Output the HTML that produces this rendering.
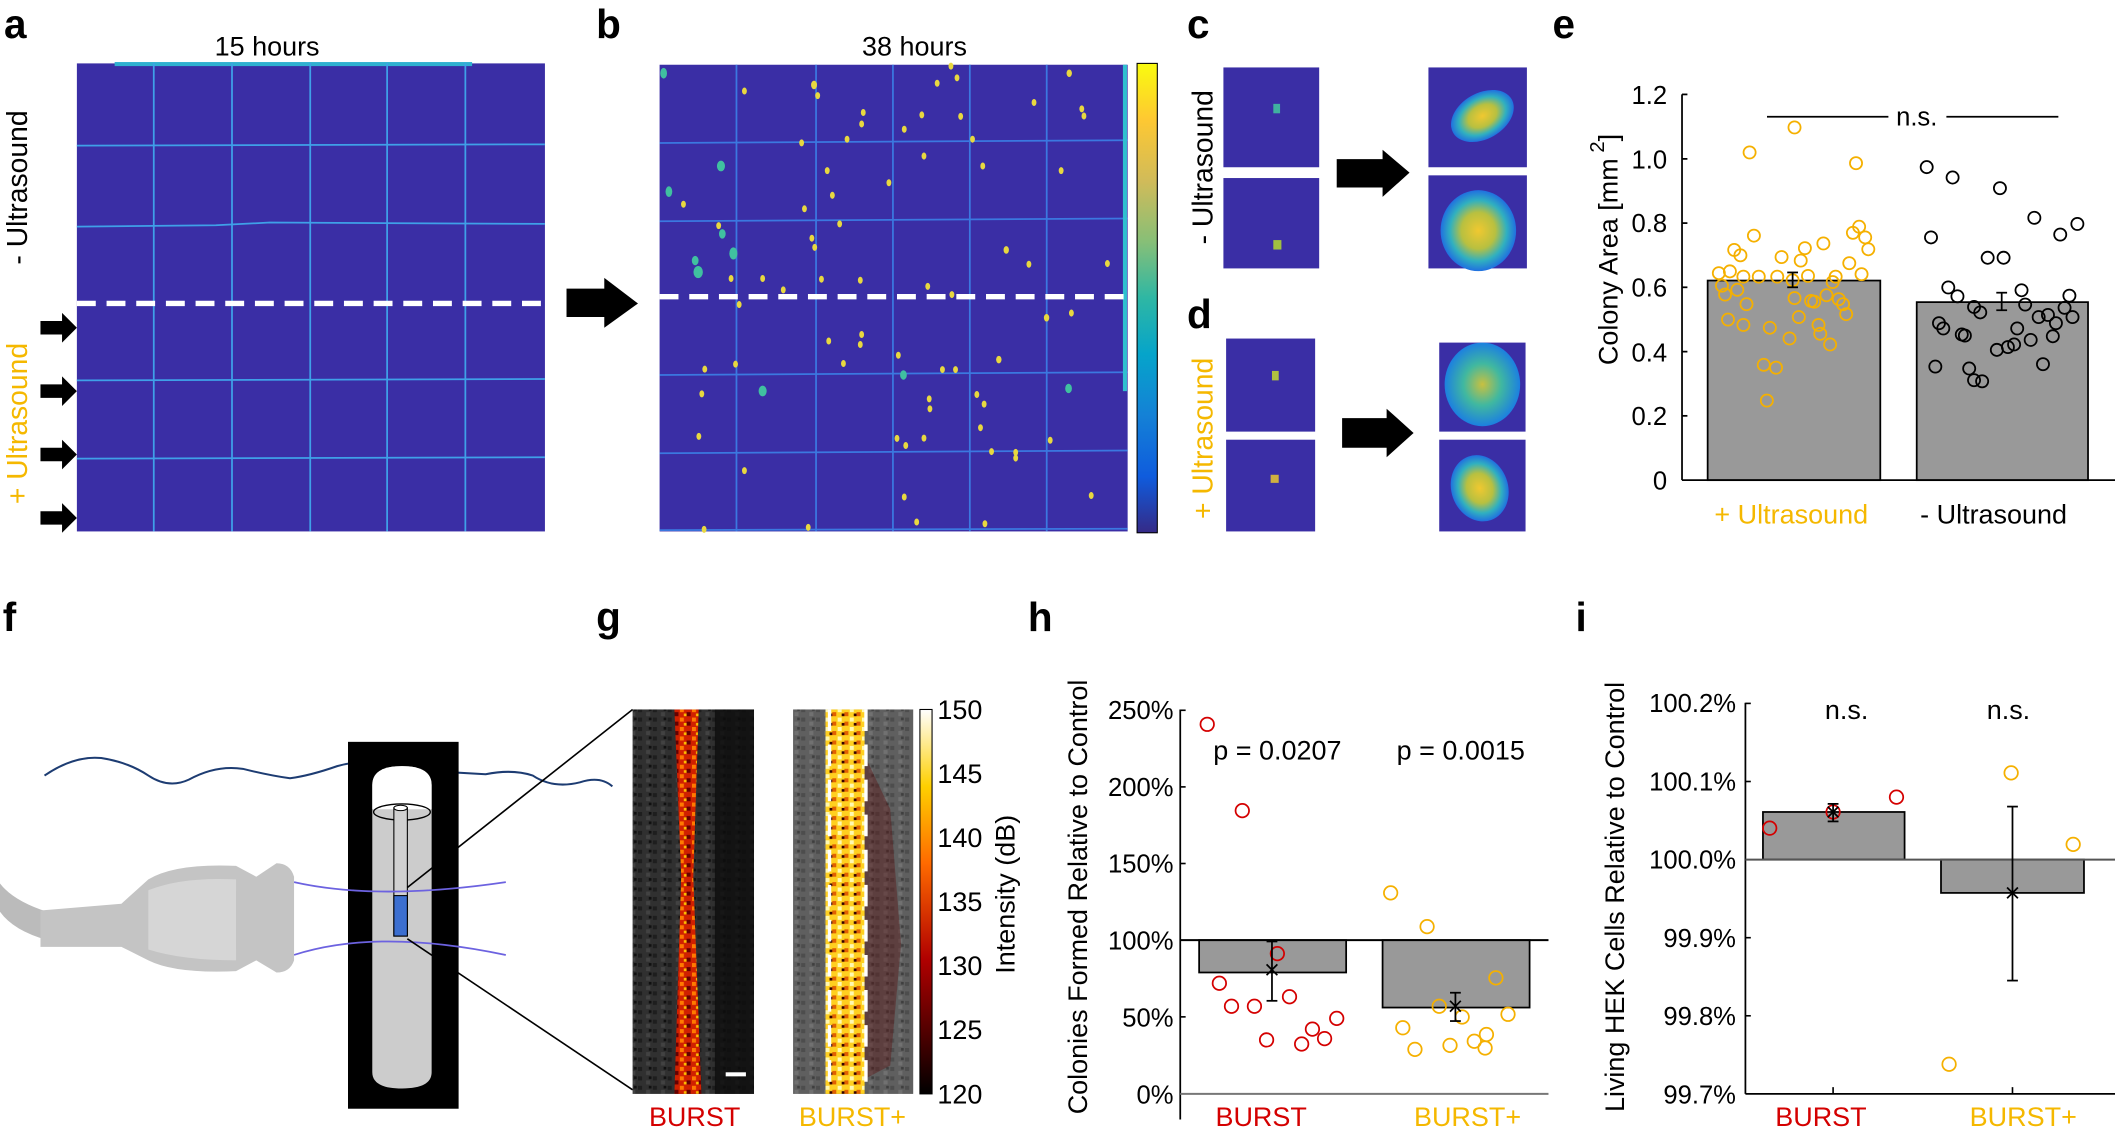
<!DOCTYPE html>
<html><head><meta charset="utf-8"><style>
html,body{margin:0;padding:0;background:#fff;}
svg{display:block;}
text{font-family:"Liberation Sans",Arial,sans-serif;}
</style></head><body>
<svg width="2115" height="1133" viewBox="0 0 1568 840" preserveAspectRatio="none" xmlns="http://www.w3.org/2000/svg">
<defs>
<linearGradient id="parula" x1="0" y1="1" x2="0" y2="0">
<stop offset="0" stop-color="#352a87"/><stop offset="0.12" stop-color="#0f5cdd"/><stop offset="0.25" stop-color="#1481d6"/><stop offset="0.38" stop-color="#06a4ca"/><stop offset="0.5" stop-color="#2eb7a4"/><stop offset="0.62" stop-color="#87bf77"/><stop offset="0.75" stop-color="#d1bb59"/><stop offset="0.88" stop-color="#fec832"/><stop offset="1" stop-color="#f9fb0e"/>
</linearGradient>
<linearGradient id="hot" x1="0" y1="1" x2="0" y2="0">
<stop offset="0" stop-color="#000"/><stop offset="0.35" stop-color="#b00000"/><stop offset="0.6" stop-color="#ff6a00"/><stop offset="0.8" stop-color="#ffd000"/><stop offset="1" stop-color="#fff"/>
</linearGradient>
<radialGradient id="blob1" cx="0.5" cy="0.5" r="0.5"><stop offset="0" stop-color="#f0c830"/><stop offset="0.45" stop-color="#b8c040"/><stop offset="0.75" stop-color="#30b0c0"/><stop offset="1" stop-color="#2070e0"/></radialGradient>
<radialGradient id="blob2" cx="0.5" cy="0.5" r="0.5"><stop offset="0" stop-color="#c8c040"/><stop offset="0.5" stop-color="#40b8a0"/><stop offset="1" stop-color="#1c80e0"/></radialGradient>
<pattern id="noise" width="11" height="7" patternUnits="userSpaceOnUse">
<rect width="11" height="7" fill="#4a4a4a"/><rect x="0" y="0" width="3" height="3" fill="#2e2e2e"/><rect x="6" y="3" width="3" height="3" fill="#666"/><rect x="8" y="0" width="2" height="2" fill="#1a1a1a"/>
</pattern>
<pattern id="redn" width="9" height="7" patternUnits="userSpaceOnUse">
<rect width="9" height="7" fill="#d02000"/><rect x="0" y="0" width="3" height="3" fill="#ff7a00"/><rect x="5" y="3" width="3" height="3" fill="#600"/><rect x="3" y="4" width="2" height="2" fill="#ffc000"/>
</pattern>
<pattern id="yeln" width="9" height="7" patternUnits="userSpaceOnUse">
<rect width="9" height="7" fill="#ffd020"/><rect x="0" y="0" width="3" height="3" fill="#fff8b0"/><rect x="5" y="3" width="3" height="3" fill="#e06000"/><rect x="3" y="4" width="2" height="2" fill="#300"/>
</pattern>
</defs>

<g font-weight="bold" font-size="30" fill="#000">
<text x="3" y="28">a</text><text x="442" y="28">b</text><text x="880" y="28">c</text><text x="880" y="243">d</text><text x="1151" y="28">e</text>
<text x="2" y="468">f</text><text x="442" y="468">g</text><text x="762" y="468">h</text><text x="1168" y="468">i</text>
</g>

<!-- panel a -->
<text x="198" y="41" font-size="20" text-anchor="middle">15 hours</text>
<rect x="57" y="47" width="347" height="347" fill="#3a2ea5"/>
<rect x="85" y="46" width="265" height="3" fill="#30b0d0"/>
<g stroke="#3fa0e8" stroke-width="1.3">
<line x1="114" y1="47" x2="114" y2="394"/><line x1="172" y1="47" x2="172" y2="394"/><line x1="230" y1="47" x2="230" y2="394"/><line x1="287" y1="47" x2="287" y2="394"/><line x1="345" y1="47" x2="345" y2="394"/>
<line x1="57" y1="108" x2="404" y2="107"/><path d="M57 168 L160 167 L200 165 L404 166" fill="none"/><line x1="57" y1="282" x2="404" y2="281"/><line x1="57" y1="340" x2="404" y2="339"/>
</g>
<line x1="57" y1="225" x2="404" y2="225" stroke="#fff" stroke-width="4" stroke-dasharray="14,8"/>
<g fill="#000">
<polygon points="30,238 46,238 46,232 57,243 46,254 46,248 30,248"/>
<polygon points="30,285 46,285 46,279 57,290 46,301 46,295 30,295"/>
<polygon points="30,332 46,332 46,326 57,337 46,348 46,342 30,342"/>
<polygon points="30,379 46,379 46,373 57,384 46,395 46,389 30,389"/>
</g>
<text transform="translate(20,139) rotate(-90)" font-size="21" text-anchor="middle">- Ultrasound</text>
<text transform="translate(20,314) rotate(-90)" font-size="21" text-anchor="middle" fill="#f5b800">+ Ultrasound</text>
<polygon points="420,214 448,214 448,206 473,225 448,243 448,235 420,235" fill="#000"/>

<!-- panel b -->
<text x="678" y="41" font-size="20" text-anchor="middle">38 hours</text>
<rect x="489" y="48" width="347" height="346" fill="#3a2ea5"/>
<g stroke="#3b78e0" stroke-width="1.3">
<line x1="546" y1="48" x2="546" y2="394"/><line x1="605" y1="48" x2="605" y2="394"/><line x1="662" y1="48" x2="662" y2="394"/><line x1="719" y1="48" x2="719" y2="394"/><line x1="776" y1="48" x2="776" y2="394"/>
<line x1="489" y1="106" x2="836" y2="104"/><line x1="489" y1="164" x2="836" y2="162"/><line x1="489" y1="278" x2="836" y2="276"/><line x1="489" y1="336" x2="836" y2="334"/><line x1="489" y1="393" x2="836" y2="392"/>
</g>
<line x1="834" y1="48" x2="834" y2="290" stroke="#30c0d0" stroke-width="3"/>
<line x1="489" y1="220" x2="836" y2="220" stroke="#fff" stroke-width="4" stroke-dasharray="14,8"/>
<g fill="#e8d840">
<ellipse cx="705" cy="49" rx="1.8" ry="2.6"/><ellipse cx="709.5" cy="57.7" rx="1.8" ry="2.6"/><ellipse cx="694.8" cy="61.7" rx="1.8" ry="2.6"/><ellipse cx="792.7" cy="54.3" rx="2" ry="2.8"/><ellipse cx="603.5" cy="63" rx="2.2" ry="3.2"/><ellipse cx="551.9" cy="67.5" rx="1.8" ry="2.6"/><ellipse cx="606.2" cy="70.9" rx="1.8" ry="2.6"/><ellipse cx="640" cy="83.4" rx="1.8" ry="2.6"/><ellipse cx="683.4" cy="85.2" rx="1.8" ry="2.6"/><ellipse cx="712.2" cy="86.3" rx="1.8" ry="2.6"/><ellipse cx="766.6" cy="76" rx="1.8" ry="2.6"/><ellipse cx="802" cy="80.7" rx="1.8" ry="2.6"/><ellipse cx="803.6" cy="86" rx="1.8" ry="2.6"/><ellipse cx="638.8" cy="91.9" rx="1.8" ry="2.6"/><ellipse cx="670.4" cy="95.8" rx="1.8" ry="2.6"/><ellipse cx="628" cy="103.2" rx="1.8" ry="2.6"/><ellipse cx="594.3" cy="105.9" rx="1.8" ry="2.6"/><ellipse cx="721" cy="103.2" rx="1.8" ry="2.6"/><ellipse cx="685" cy="115.7" rx="1.8" ry="2.6"/><ellipse cx="613.3" cy="126.5" rx="1.8" ry="2.6"/><ellipse cx="728.6" cy="123.1" rx="1.8" ry="2.6"/><ellipse cx="786.7" cy="126.5" rx="1.8" ry="2.6"/><ellipse cx="659" cy="135.5" rx="1.8" ry="2.6"/><ellipse cx="617.1" cy="144.8" rx="1.8" ry="2.6"/><ellipse cx="506.7" cy="151.4" rx="1.8" ry="2.6"/><ellipse cx="596.4" cy="154.8" rx="1.8" ry="2.6"/><ellipse cx="622.5" cy="166" rx="1.8" ry="2.6"/><ellipse cx="532.8" cy="167.3" rx="1.8" ry="2.6"/><ellipse cx="601.9" cy="176.6" rx="1.8" ry="2.6"/><ellipse cx="604" cy="183.4" rx="1.8" ry="2.6"/><ellipse cx="746" cy="185.3" rx="2" ry="2.8"/><ellipse cx="762.8" cy="195.9" rx="1.8" ry="2.6"/><ellipse cx="821" cy="195.4" rx="1.8" ry="2.6"/><ellipse cx="542" cy="206.5" rx="1.8" ry="2.6"/><ellipse cx="565.4" cy="206.5" rx="1.8" ry="2.6"/><ellipse cx="609" cy="207" rx="1.8" ry="2.6"/><ellipse cx="637.8" cy="207.8" rx="1.8" ry="2.6"/><ellipse cx="580.7" cy="214.9" rx="1.8" ry="2.6"/><ellipse cx="687.8" cy="212.3" rx="1.8" ry="2.6"/><ellipse cx="705.7" cy="218.4" rx="1.8" ry="2.6"/><ellipse cx="548" cy="225.8" rx="1.8" ry="2.6"/><ellipse cx="775.9" cy="235.6" rx="2" ry="2.8"/><ellipse cx="794.3" cy="232.1" rx="1.8" ry="2.6"/><ellipse cx="614.4" cy="252.8" rx="1.8" ry="2.6"/><ellipse cx="638.8" cy="248" rx="1.8" ry="2.6"/><ellipse cx="637.8" cy="255.4" rx="1.8" ry="2.6"/><ellipse cx="666" cy="263.4" rx="1.8" ry="2.6"/><ellipse cx="625.3" cy="269.5" rx="1.8" ry="2.6"/><ellipse cx="545.3" cy="270" rx="1.8" ry="2.6"/><ellipse cx="522.5" cy="273.7" rx="1.8" ry="2.6"/><ellipse cx="740.5" cy="266.6" rx="2" ry="2.8"/><ellipse cx="698.7" cy="274" rx="1.8" ry="2.6"/><ellipse cx="708.4" cy="274" rx="1.8" ry="2.6"/><ellipse cx="520.3" cy="292" rx="1.8" ry="2.6"/><ellipse cx="688.9" cy="295.7" rx="1.8" ry="2.6"/><ellipse cx="689.4" cy="303.1" rx="1.8" ry="2.6"/><ellipse cx="724.2" cy="292.5" rx="1.8" ry="2.6"/><ellipse cx="729.6" cy="299.6" rx="1.8" ry="2.6"/><ellipse cx="726.9" cy="317.1" rx="1.8" ry="2.6"/><ellipse cx="518.1" cy="323.5" rx="1.8" ry="2.6"/><ellipse cx="665" cy="325" rx="1.8" ry="2.6"/><ellipse cx="671.5" cy="330.3" rx="1.8" ry="2.6"/><ellipse cx="685" cy="324.8" rx="1.8" ry="2.6"/><ellipse cx="778.6" cy="326.4" rx="1.8" ry="2.6"/><ellipse cx="735.1" cy="334.8" rx="1.8" ry="2.6"/><ellipse cx="753" cy="335.4" rx="1.8" ry="2.6"/><ellipse cx="753" cy="339.6" rx="1.8" ry="2.6"/><ellipse cx="551.9" cy="348.9" rx="1.8" ry="2.6"/><ellipse cx="670.4" cy="368.5" rx="1.8" ry="2.6"/><ellipse cx="809" cy="367.4" rx="1.8" ry="2.6"/><ellipse cx="679.6" cy="387" rx="1.8" ry="2.6"/><ellipse cx="599.2" cy="391" rx="1.8" ry="2.6"/><ellipse cx="730.2" cy="388.3" rx="1.8" ry="2.6"/><ellipse cx="522" cy="392.5" rx="1.8" ry="2.6"/>
</g>
<g fill="#40c0a0">
<ellipse cx="492" cy="54.3" rx="2.5" ry="4"/><ellipse cx="534.5" cy="123.1" rx="3" ry="4"/><ellipse cx="495.9" cy="142.1" rx="2.5" ry="4"/><ellipse cx="535.5" cy="173.4" rx="2.5" ry="3.5"/><ellipse cx="543.7" cy="187.9" rx="3" ry="4.5"/><ellipse cx="515.4" cy="193.2" rx="2.5" ry="3.5"/><ellipse cx="517.6" cy="201.7" rx="3.5" ry="4.5"/><ellipse cx="669.8" cy="278" rx="2.5" ry="3.5"/><ellipse cx="565.4" cy="289.9" rx="3" ry="4"/><ellipse cx="792.2" cy="288" rx="2.5" ry="3.5"/>
</g>
<rect x="843" y="47" width="15" height="348" fill="url(#parula)" stroke="#000" stroke-width="0.8"/>

<!-- panel c/d -->
<text transform="translate(899,124) rotate(-90)" font-size="21" text-anchor="middle">- Ultrasound</text>
<text transform="translate(899,325) rotate(-90)" font-size="21" text-anchor="middle" fill="#f5b800">+ Ultrasound</text>
<g fill="#3a2ea5">
<rect x="907" y="50" width="71" height="74"/><rect x="907" y="132" width="71" height="67"/>
<rect x="1059" y="50" width="73" height="74"/><rect x="1059" y="130" width="73" height="69"/>
<rect x="909" y="251" width="66" height="69"/><rect x="909" y="326" width="66" height="68"/>
<rect x="1067" y="254" width="64" height="66"/><rect x="1067" y="326" width="64" height="68"/>
</g>
<rect x="944" y="77" width="5" height="7" fill="#40b0a0"/><rect x="944" y="178" width="6" height="7" fill="#a0c040"/>
<rect x="943" y="275" width="5" height="7" fill="#b0c040"/><rect x="942" y="352" width="6" height="6" fill="#d0b040"/>
<ellipse cx="1099" cy="86" rx="25" ry="17" transform="rotate(-30 1099 86)" fill="url(#blob1)"/>
<ellipse cx="1096" cy="171" rx="28" ry="30" fill="url(#blob1)"/>
<ellipse cx="1099" cy="285" rx="28" ry="31" fill="url(#blob2)"/>
<ellipse cx="1097" cy="362" rx="21" ry="25" transform="rotate(-20 1097 362)" fill="url(#blob1)"/>
<polygon points="991,118 1025,118 1025,111 1045,128 1025,146 1025,139 991,139" fill="#000"/>
<polygon points="995,310 1028,310 1028,303 1048,321 1028,339 1028,332 995,332" fill="#000"/>

<!-- panel e -->
<g font-size="19" text-anchor="end">
<text x="1236" y="363">0</text><text x="1236" y="315">0.2</text><text x="1236" y="268">0.4</text><text x="1236" y="220">0.6</text><text x="1236" y="172">0.8</text><text x="1236" y="125">1.0</text><text x="1236" y="77">1.2</text>
</g>
<text transform="translate(1199,185) rotate(-90)" font-size="20" text-anchor="middle">Colony Area [mm<tspan dy="-10" font-size="15"> 2</tspan><tspan dy="10">]</tspan></text>
<rect x="1266" y="208" width="128" height="148" fill="#999" stroke="#000" stroke-width="1.3"/>
<rect x="1421" y="224" width="127" height="132" fill="#999" stroke="#000" stroke-width="1.3"/>
<g stroke="#000" stroke-width="1.3">
<line x1="1247" y1="70" x2="1247" y2="356"/><line x1="1247" y1="356" x2="1568" y2="356"/>
<line x1="1247" y1="70" x2="1251" y2="70"/><line x1="1247" y1="117.8" x2="1251" y2="117.8"/><line x1="1247" y1="165.4" x2="1251" y2="165.4"/><line x1="1247" y1="213" x2="1251" y2="213"/><line x1="1247" y1="260.7" x2="1251" y2="260.7"/><line x1="1247" y1="308.3" x2="1251" y2="308.3"/>
<line x1="1310" y1="86.6" x2="1400" y2="86.6"/><line x1="1443" y1="86.6" x2="1526" y2="86.6"/>
</g>
<text x="1421" y="93" font-size="19" text-anchor="middle">n.s.</text>
<g fill="none" stroke="#f5b000" stroke-width="1.3">
<circle cx="1330.4" cy="94.5" r="4.5"/><circle cx="1297.1" cy="113" r="4.5"/><circle cx="1376" cy="121" r="4.5"/><circle cx="1300.3" cy="174.7" r="4.5"/><circle cx="1285.7" cy="185.3" r="4.5"/><circle cx="1290.3" cy="189.3" r="4.5"/><circle cx="1338.1" cy="184" r="4.5"/><circle cx="1320.8" cy="190.6" r="4.5"/><circle cx="1335" cy="193.2" r="4.5"/><circle cx="1351.8" cy="180.5" r="4.5"/><circle cx="1373.7" cy="172.6" r="4.5"/><circle cx="1378.3" cy="168.1" r="4.5"/><circle cx="1382.8" cy="176" r="4.5"/><circle cx="1385.1" cy="184.8" r="4.5"/><circle cx="1371" cy="195.1" r="4.5"/><circle cx="1380.1" cy="203.3" r="4.5"/><circle cx="1282.5" cy="201.2" r="4.5"/><circle cx="1274.3" cy="202.5" r="4.5"/><circle cx="1292.5" cy="205.1" r="4.5"/><circle cx="1303.9" cy="205.1" r="4.5"/><circle cx="1317.6" cy="205.1" r="4.5"/><circle cx="1329" cy="207.8" r="4.5"/><circle cx="1340.4" cy="204.6" r="4.5"/><circle cx="1360.9" cy="205.1" r="4.5"/><circle cx="1358.7" cy="209.1" r="4.5"/><circle cx="1276.6" cy="211.8" r="4.5"/><circle cx="1278.9" cy="218.4" r="4.5"/><circle cx="1288" cy="214.9" r="4.5"/><circle cx="1294.8" cy="225.5" r="4.5"/><circle cx="1330.4" cy="221" r="4.5"/><circle cx="1342.7" cy="223.1" r="4.5"/><circle cx="1345" cy="223.7" r="4.5"/><circle cx="1354.1" cy="218.9" r="4.5"/><circle cx="1363.2" cy="221.8" r="4.5"/><circle cx="1366.4" cy="225.5" r="4.5"/><circle cx="1368.7" cy="232.9" r="4.5"/><circle cx="1281.1" cy="236.9" r="4.5"/><circle cx="1292.5" cy="240.9" r="4.5"/><circle cx="1312.1" cy="243" r="4.5"/><circle cx="1333.6" cy="235.1" r="4.5"/><circle cx="1348.2" cy="240.9" r="4.5"/><circle cx="1349.5" cy="247.5" r="4.5"/><circle cx="1326.7" cy="250.9" r="4.5"/><circle cx="1356.8" cy="255.4" r="4.5"/><circle cx="1307.6" cy="270.5" r="4.5"/><circle cx="1316.7" cy="272.6" r="4.5"/><circle cx="1309.9" cy="297" r="4.5"/>
</g>
<g fill="none" stroke="#000" stroke-width="1.3">
<circle cx="1428.4" cy="123.9" r="4.5"/><circle cx="1447.6" cy="131.6" r="4.5"/><circle cx="1482.7" cy="139.5" r="4.5"/><circle cx="1431.6" cy="176" r="4.5"/><circle cx="1508.2" cy="161.5" r="4.5"/><circle cx="1527.4" cy="173.9" r="4.5"/><circle cx="1540.1" cy="166" r="4.5"/><circle cx="1473.6" cy="191.1" r="4.5"/><circle cx="1485.4" cy="191.1" r="4.5"/><circle cx="1444.4" cy="213.1" r="4.5"/><circle cx="1451.2" cy="219.7" r="4.5"/><circle cx="1498.7" cy="215.2" r="4.5"/><circle cx="1501.4" cy="225.8" r="4.5"/><circle cx="1534.2" cy="219.2" r="4.5"/><circle cx="1530.6" cy="228.2" r="4.5"/><circle cx="1463.5" cy="227.6" r="4.5"/><circle cx="1468.1" cy="231.6" r="4.5"/><circle cx="1437.5" cy="239.6" r="4.5"/><circle cx="1440.7" cy="243.5" r="4.5"/><circle cx="1454.4" cy="248" r="4.5"/><circle cx="1456.7" cy="248.8" r="4.5"/><circle cx="1495.5" cy="243.5" r="4.5"/><circle cx="1511.4" cy="235.1" r="4.5"/><circle cx="1518.3" cy="233.5" r="4.5"/><circle cx="1524.2" cy="239.6" r="4.5"/><circle cx="1536.5" cy="235.1" r="4.5"/><circle cx="1521.9" cy="249.3" r="4.5"/><circle cx="1505.5" cy="252" r="4.5"/><circle cx="1480.4" cy="259.4" r="4.5"/><circle cx="1488.6" cy="257.3" r="4.5"/><circle cx="1493.2" cy="255.4" r="4.5"/><circle cx="1434.8" cy="271.8" r="4.5"/><circle cx="1459.9" cy="273.2" r="4.5"/><circle cx="1463.5" cy="281.9" r="4.5"/><circle cx="1469.5" cy="282.7" r="4.5"/><circle cx="1514.6" cy="270" r="4.5"/>
</g>
<g stroke="#000" stroke-width="1.3">
<line x1="1329" y1="202" x2="1329" y2="213"/><line x1="1325" y1="202" x2="1333" y2="202"/><line x1="1325" y1="213" x2="1333" y2="213"/>
<line x1="1484" y1="217" x2="1484" y2="230"/><line x1="1480" y1="217" x2="1488" y2="217"/><line x1="1480" y1="230" x2="1488" y2="230"/>
</g>
<text x="1328" y="388" font-size="20" text-anchor="middle" fill="#f5b800">+ Ultrasound</text>
<text x="1478" y="388" font-size="20" text-anchor="middle">- Ultrasound</text>

<!-- panel f -->
<path d="M33 575 Q55 560 75 562 Q95 565 110 575 Q125 585 140 578 Q160 567 180 570 Q200 575 215 577 Q230 575 250 568 Q270 562 290 570 L360 574 Q380 570 395 575 Q410 585 430 580 Q445 575 454 583" fill="none" stroke="#1d3c72" stroke-width="1.5"/>
<rect x="258" y="550" width="82" height="272" fill="#000"/>
<path d="M276 582 Q276 568 298 568 Q320 568 320 582 L320 795 Q320 807 298 807 Q276 807 276 795 Z" fill="#ccc"/>
<path d="M276 600 L276 582 Q276 568 298 568 Q320 568 320 582 L320 600 Z" fill="#fff"/>
<ellipse cx="298" cy="602" rx="21" ry="6" fill="none" stroke="#000" stroke-width="1"/>
<rect x="292" y="599" width="10" height="95" fill="#d0d0d0" stroke="#000" stroke-width="0.8"/>
<ellipse cx="297" cy="599" rx="5" ry="2" fill="#fff" stroke="#000" stroke-width="0.8"/>
<rect x="292" y="664" width="10" height="30" fill="#3c6fd0" stroke="#000" stroke-width="0.8"/>
<path d="M218 654 Q280 668 375 654" fill="none" stroke="#6c62e0" stroke-width="1.3"/>
<path d="M218 708 Q280 688 375 708" fill="none" stroke="#6c62e0" stroke-width="1.3"/>
<path d="M0 655 Q10 668 35 676 L35 697 Q10 690 0 676 Z" fill="#bbb"/>
<path d="M30 675 L90 670 L110 652 Q130 640 175 642 L190 650 L205 640 Q215 640 218 650 L218 712 Q215 721 205 721 L190 712 L175 720 Q130 722 110 712 L90 702 L30 702 Z" fill="#c4c4c4"/>
<path d="M110 660 Q135 650 175 652 L175 712 Q135 712 110 704 Z" fill="#d6d6d6"/>
<line x1="302" y1="658" x2="469" y2="526" stroke="#000" stroke-width="1.2"/>
<line x1="302" y1="696" x2="469" y2="808" stroke="#000" stroke-width="1.2"/>

<!-- panel g -->
<rect x="469" y="526" width="90" height="285" fill="url(#noise)"/>
<rect x="469" y="526" width="90" height="285" fill="#000" opacity="0.35"/>
<rect x="530" y="526" width="29" height="285" fill="#0c0c0c" opacity="0.8"/>
<path d="M500 526 L518 526 L514 650 L520 811 L500 811 L505 650 Z" fill="url(#redn)"/>
<rect x="538" y="795" width="15" height="3" fill="#fff"/>
<rect x="588" y="526" width="89" height="285" fill="url(#noise)"/>
<rect x="588" y="526" width="89" height="285" fill="#888" opacity="0.35"/>
<rect x="612" y="526" width="29" height="285" fill="url(#yeln)"/>
<path d="M641 560 L660 600 L668 700 L660 790 L641 800 Z" fill="#5a1010" opacity="0.4"/>
<line x1="615" y1="526" x2="615" y2="811" stroke="#fff" stroke-width="2.5" stroke-dasharray="16,10"/>
<line x1="642" y1="526" x2="642" y2="811" stroke="#fff" stroke-width="2.5" stroke-dasharray="16,10"/>
<rect x="682" y="526" width="9" height="285" fill="url(#hot)" stroke="#000" stroke-width="0.8"/>
<g font-size="20">
<text x="695" y="533">150</text><text x="695" y="580.5">145</text><text x="695" y="628">140</text><text x="695" y="675.5">135</text><text x="695" y="723">130</text><text x="695" y="770.5">125</text><text x="695" y="818">120</text>
</g>
<text transform="translate(752,663) rotate(-90)" font-size="20" text-anchor="middle">Intensity (dB)</text>
<text x="515" y="835" font-size="20" text-anchor="middle" fill="#d40000">BURST</text>
<text x="632" y="835" font-size="20" text-anchor="middle" fill="#f5b800">BURST+</text>

<!-- panel h -->
<text transform="translate(806,665) rotate(-90)" font-size="20" text-anchor="middle">Colonies Formed Relative to Control</text>
<g font-size="19" text-anchor="end">
<text x="870" y="818">0%</text><text x="870" y="761">50%</text><text x="870" y="704">100%</text><text x="870" y="647">150%</text><text x="870" y="590">200%</text><text x="870" y="533">250%</text>
</g>
<rect x="889" y="697" width="109" height="24" fill="#999" stroke="#000" stroke-width="1.3"/>
<rect x="1025" y="697" width="109" height="50" fill="#999" stroke="#000" stroke-width="1.3"/>
<line x1="875" y1="526" x2="875" y2="830" stroke="#000" stroke-width="1.3"/>
<line x1="875" y1="697" x2="1148" y2="697" stroke="#000" stroke-width="1.5"/>
<line x1="875" y1="811" x2="1148" y2="811" stroke="#777" stroke-width="1.5"/>
<g stroke="#000" stroke-width="1.2"><line x1="875" y1="526.6" x2="879" y2="526.6"/><line x1="875" y1="583.4" x2="879" y2="583.4"/><line x1="875" y1="640.2" x2="879" y2="640.2"/><line x1="875" y1="753.9" x2="879" y2="753.9"/></g>
<text x="947" y="563" font-size="20" text-anchor="middle">p = 0.0207</text>
<text x="1083" y="563" font-size="20" text-anchor="middle">p = 0.0015</text>
<g fill="none" stroke="#d40000" stroke-width="1.3">
<circle cx="895" cy="537" r="5"/><circle cx="921" cy="601" r="5"/><circle cx="904" cy="729" r="5"/><circle cx="913" cy="746" r="5"/><circle cx="930" cy="746" r="5"/><circle cx="956" cy="739" r="5"/><circle cx="947" cy="707" r="5"/><circle cx="939" cy="771" r="5"/><circle cx="965" cy="774" r="5"/><circle cx="973" cy="763" r="5"/><circle cx="982" cy="770" r="5"/><circle cx="991" cy="755" r="5"/>
</g>
<g fill="none" stroke="#f5b000" stroke-width="1.3">
<circle cx="1031" cy="662" r="5"/><circle cx="1058" cy="687" r="5"/><circle cx="1109" cy="725" r="5"/><circle cx="1118" cy="752" r="5"/><circle cx="1067" cy="746" r="5"/><circle cx="1084" cy="754" r="5"/><circle cx="1040" cy="762" r="5"/><circle cx="1049" cy="778" r="5"/><circle cx="1075" cy="775" r="5"/><circle cx="1093" cy="772" r="5"/><circle cx="1102" cy="767" r="5"/><circle cx="1101" cy="777" r="5"/>
</g>
<g stroke="#000" stroke-width="1.3">
<line x1="943" y1="698" x2="943" y2="742"/><line x1="939" y1="698" x2="947" y2="698"/><line x1="939" y1="742" x2="947" y2="742"/><path d="M939 715 L947 723 M939 723 L947 715"/>
<line x1="1079" y1="736" x2="1079" y2="757"/><line x1="1075" y1="736" x2="1083" y2="736"/><line x1="1075" y1="757" x2="1083" y2="757"/><path d="M1075 742 L1083 750 M1075 750 L1083 742"/>
</g>
<text x="935" y="835" font-size="20" text-anchor="middle" fill="#d40000">BURST</text>
<text x="1088" y="835" font-size="20" text-anchor="middle" fill="#f5b800">BURST+</text>

<!-- panel i -->
<text transform="translate(1204,665) rotate(-90)" font-size="20" text-anchor="middle">Living HEK Cells Relative to Control</text>
<g font-size="19" text-anchor="end">
<text x="1287" y="818">99.7%</text><text x="1287" y="760">99.8%</text><text x="1287" y="702">99.9%</text><text x="1287" y="644">100.0%</text><text x="1287" y="586">100.1%</text><text x="1287" y="528">100.2%</text>
</g>
<rect x="1307" y="602" width="105" height="35.3" fill="#999" stroke="#000" stroke-width="1.3"/>
<rect x="1439" y="637.3" width="106" height="24.7" fill="#999" stroke="#000" stroke-width="1.3"/>
<line x1="1294" y1="521" x2="1294" y2="811" stroke="#000" stroke-width="1.3"/>
<line x1="1294" y1="811" x2="1568" y2="811" stroke="#000" stroke-width="1.3"/>
<line x1="1294" y1="637.3" x2="1568" y2="637.3" stroke="#555" stroke-width="1.5"/>
<g stroke="#000" stroke-width="1.2"><line x1="1359" y1="811" x2="1359" y2="806"/><line x1="1492" y1="811" x2="1492" y2="806"/><line x1="1294" y1="521.5" x2="1298" y2="521.5"/><line x1="1294" y1="579.4" x2="1298" y2="579.4"/><line x1="1294" y1="695.2" x2="1298" y2="695.2"/><line x1="1294" y1="753.1" x2="1298" y2="753.1"/></g>
<text x="1369" y="533" font-size="20" text-anchor="middle">n.s.</text>
<text x="1489" y="533" font-size="20" text-anchor="middle">n.s.</text>
<g fill="none" stroke="#d40000" stroke-width="1.3"><circle cx="1312" cy="614" r="5"/><circle cx="1359" cy="602" r="5"/><circle cx="1406" cy="591" r="5"/></g>
<g fill="none" stroke="#f5b000" stroke-width="1.3"><circle cx="1491" cy="573" r="5"/><circle cx="1537" cy="626" r="5"/><circle cx="1445" cy="789" r="5"/></g>
<g stroke="#000" stroke-width="1.3">
<line x1="1359" y1="596" x2="1359" y2="609"/><line x1="1355" y1="596" x2="1363" y2="596"/><line x1="1355" y1="609" x2="1363" y2="609"/><path d="M1355 598 L1363 606 M1355 606 L1363 598"/>
<line x1="1492" y1="598" x2="1492" y2="727"/><line x1="1488" y1="598" x2="1496" y2="598"/><line x1="1488" y1="727" x2="1496" y2="727"/><path d="M1488 658 L1496 666 M1488 666 L1496 658"/>
</g>
<text x="1350" y="835" font-size="20" text-anchor="middle" fill="#d40000">BURST</text>
<text x="1500" y="835" font-size="20" text-anchor="middle" fill="#f5b800">BURST+</text>
</svg>
</body></html>
